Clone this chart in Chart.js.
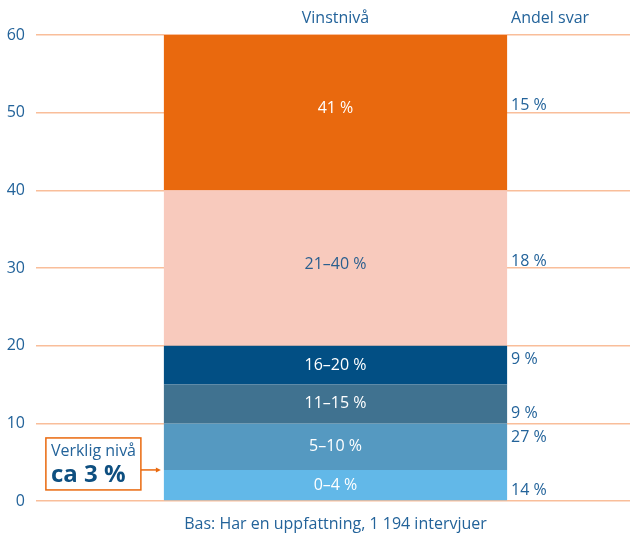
<!DOCTYPE html>
<html>
<head>
<meta charset="utf-8">
<script src="https://cdn.jsdelivr.net/npm/chart.js@4/dist/chart.umd.min.js"></script>
<style>
  html, body { margin: 0; padding: 0; background: #ffffff; overflow: hidden; }
  #wrap { width: 630px; height: 536px; position: relative; overflow: hidden; }
  canvas { display: block; }
</style>
</head>
<body>
<div id="wrap"><canvas id="c" width="635" height="536"></canvas></div>
<script>
// ---- data ----
const categories = ['Vinstnivå'];
const bandLabels = ['0–4 %', '5–10 %', '11–15 %', '16–20 %', '21–40 %', '41 %'];
const bandHeights = [4, 6, 5, 5, 20, 20];
const shareLabels = ['14 %', '27 %', '9 %', '9 %', '18 %', '15 %'];
const yTickValues = [0, 10, 20, 30, 40, 50, 60];
const actualLevelLabel = ['Verklig nivå', 'ca 3 %'];
const actualLevelValue = 4;
const headerLeft = 'Vinstnivå';
const headerRight = 'Andel svar';
const footerText = 'Bas: Har en uppfattning, 1 194 intervjuer';

// ---- styles ----
const bandColors = ['#62B8E8', '#5599C1', '#407290', '#024F84', '#F8CABD', '#E9690E'];
const bandTextColors = ['#ffffff', '#ffffff', '#ffffff', '#ffffff', '#2A5F8F', '#ffffff'];
const shareAnchor = ['bottom', 'top', 'bottom', 'top', 'center', 'center'];
const textBlue = '#23639A';
const gridColor = '#F9BE9A';
const orange = '#E9690E';
const FONT = "'Open Sans', 'Noto Sans', sans-serif";

const datasets = bandHeights.map((v, i) => ({
  label: bandLabels[i],
  data: [v],
  backgroundColor: bandColors[i],
  borderWidth: 0,
  barPercentage: 1,
  categoryPercentage: 0.573
}));

const overlay = {
  id: 'overlay',
  afterDatasetsDraw(chart) {
    const ctx = chart.ctx;
    const y = chart.scales.y;
    ctx.save();
    let barLeft = 0, barRight = 0;
    chart.data.datasets.forEach((ds, i) => {
      const el = chart.getDatasetMeta(i).data[0];
      const half = el.width / 2;
      barLeft = el.x - half; barRight = el.x + half;
      const top = Math.min(el.y, el.base), bot = Math.max(el.y, el.base);
      const mid = (top + bot) / 2;
      ctx.font = '16px ' + FONT;
      ctx.textAlign = 'center';
      ctx.textBaseline = 'middle';
      ctx.fillStyle = bandTextColors[i];
      ctx.fillText(bandLabels[i], el.x, (bot - top) > 80 ? mid - 4 : mid);
      let ty;
      if (shareAnchor[i] === 'top') ty = top + 14;
      else if (shareAnchor[i] === 'bottom') ty = bot - 10;
      else ty = mid - 7;
      ctx.textAlign = 'left';
      ctx.fillStyle = textBlue;
      ctx.fillText(shareLabels[i], barRight + 4, ty);
    });
    ctx.font = '16px ' + FONT;
    ctx.fillStyle = textBlue;
    ctx.textBaseline = 'middle';
    ctx.textAlign = 'center';
    ctx.fillText(headerLeft, (barLeft + barRight) / 2, 18);
    ctx.textAlign = 'left';
    ctx.fillText(headerRight, barRight + 4, 18);
    ctx.textAlign = 'center';
    ctx.fillText(footerText, (barLeft + barRight) / 2, 524);
    // annotation
    const ay = y.getPixelForValue(actualLevelValue);
    const tipX = barLeft - 3;
    const boxR = tipX - 20, boxL = boxR - 95;
    const boxT = ay - 32, boxB = ay + 20;
    ctx.fillStyle = '#ffffff';
    ctx.fillRect(boxL, boxT, boxR - boxL, boxB - boxT);
    ctx.strokeStyle = orange;
    ctx.lineWidth = 1.5;
    ctx.strokeRect(boxL, boxT, boxR - boxL, boxB - boxT);
    ctx.beginPath();
    ctx.moveTo(boxR, ay);
    ctx.lineTo(tipX - 3, ay);
    ctx.stroke();
    ctx.beginPath();
    ctx.fillStyle = orange;
    ctx.moveTo(tipX, ay);
    ctx.lineTo(tipX - 5, ay - 2.5);
    ctx.lineTo(tipX - 5, ay + 2.5);
    ctx.closePath();
    ctx.fill();
    ctx.textAlign = 'left';
    ctx.fillStyle = textBlue;
    ctx.font = '16px ' + FONT;
    ctx.fillText(actualLevelLabel[0], boxL + 5, ay - 18);
    ctx.fillStyle = '#0E4F80';
    ctx.font = 'bold 24px ' + FONT;
    ctx.fillText(actualLevelLabel[1], boxL + 5, ay + 5);
    ctx.restore();
  }
};

new Chart(document.getElementById('c'), {
  type: 'bar',
  data: { labels: categories, datasets },
  options: {
    responsive: false,
    animation: false,
    layout: { padding: { top: 35, bottom: 35, right: 0, left: 0 } },
    plugins: { legend: { display: false }, tooltip: { enabled: false }, title: { display: false } },
    scales: {
      x: { stacked: true, display: false },
      y: {
        stacked: true,
        min: 0, max: 60,
        afterFit(scale) { scale.width = 36; },
        afterBuildTicks(scale) { scale.ticks = yTickValues.map(v => ({ value: v })); },
        border: { display: false },
        grid: { color: gridColor, lineWidth: 1.5, drawTicks: false },
        ticks: { color: textBlue, font: { family: FONT, size: 16 }, padding: 11 }
      }
    }
  },
  plugins: [overlay]
});
</script>
</body>
</html>
